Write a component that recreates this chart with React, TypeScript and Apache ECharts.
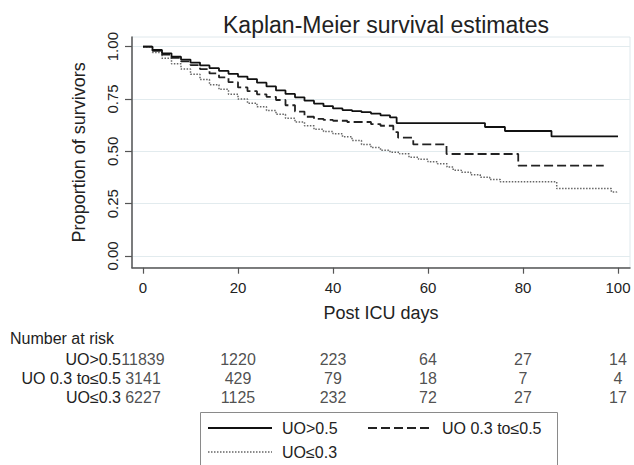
import React, { useEffect, useRef } from "react";
import * as echarts from "echarts";

const seriesNames = ["UO>0.5", "UO 0.3 to≤0.5", "UO≤0.3"];

const survHigh: [number, number][] = [
  [0, 1], [2, 0.984], [4, 0.968], [6, 0.952], [8, 0.938], [10, 0.924], [12, 0.91],
  [14, 0.897], [16, 0.884], [18, 0.87], [20, 0.857], [22, 0.845], [24, 0.828],
  [26, 0.81], [28, 0.791], [30, 0.774], [32, 0.758], [34, 0.742], [36, 0.728],
  [38, 0.716], [40, 0.705], [42, 0.697], [44, 0.692], [46, 0.687], [48, 0.68],
  [50, 0.672], [52, 0.662], [53.4, 0.635], [72, 0.616], [76.2, 0.597], [86, 0.571],
  [100, 0.571],
];

const survMid: [number, number][] = [
  [0, 1], [2, 0.98], [4, 0.962], [6, 0.946], [8, 0.93], [10, 0.912], [12, 0.893],
  [14, 0.872], [16, 0.853], [18, 0.83], [20, 0.805], [22, 0.787], [24, 0.772],
  [26, 0.76], [28, 0.745], [30, 0.72], [32, 0.69], [34, 0.665], [36, 0.655],
  [38, 0.65], [40, 0.646], [43, 0.64], [48, 0.63], [50, 0.622], [52.7, 0.592],
  [53.7, 0.565], [56.9, 0.533], [63.9, 0.487], [79, 0.432], [97, 0.432],
];

const survLow: [number, number][] = [
  [0, 1], [2, 0.972], [4, 0.945], [6, 0.918], [8, 0.893], [10, 0.868], [12, 0.843],
  [14, 0.818], [16, 0.796], [18, 0.773], [20, 0.75], [22, 0.73], [24, 0.713],
  [26, 0.695], [28, 0.677], [30, 0.658], [32, 0.64], [34, 0.622], [36, 0.605],
  [38, 0.595], [40, 0.584], [42, 0.57], [44, 0.552], [46, 0.533], [48, 0.518],
  [50, 0.505], [52, 0.496], [54, 0.488], [56, 0.472], [58, 0.462], [60, 0.45],
  [62, 0.441], [64, 0.425], [65.3, 0.41], [67, 0.4], [69, 0.388], [71, 0.376],
  [73, 0.365], [75.2, 0.354], [87.1, 0.322], [98.6, 0.306], [99.7, 0.3],
];

const xTicks = [0, 20, 40, 60, 80, 100];
const yTicks = [0, 0.25, 0.5, 0.75, 1];

const riskDays = [0, 20, 40, 60, 80, 100];
const riskHigh = [11839, 1220, 223, 64, 27, 14];
const riskMid = [3141, 429, 79, 18, 7, 4];
const riskLow = [6227, 1125, 232, 72, 27, 17];

export default function App() {
  const ref = useRef<HTMLDivElement>(null);
  useEffect(() => {
    const chart = echarts.init(ref.current!, null, { renderer: "svg" });
    const font = "'Liberation Sans', Arial, sans-serif";
    const txt = "#222";
    const xMin = -2.316;
    const xMax = 102.53;
    const riskRows = [riskHigh, riskMid, riskLow];
    const riskData: any[] = [];
    riskRows.forEach((row, r) =>
      row.forEach((v, i) => riskData.push([riskDays[i], seriesNames[r], v]))
    );
    const lineStyles = [
      { color: "#111", width: 1.8, type: "solid" },
      { color: "#222", width: 1.8, type: [9, 4] },
      { color: "#666", width: 1.5, type: [1.5, 1.5] },
    ];
    const survData = [survHigh, survMid, survLow];

    chart.setOption({
      animation: false,
      backgroundColor: "#fff",
      textStyle: { fontFamily: font },
      title: {
        text: "Kaplan-Meier survival estimates",
        left: 381,
        top: 8,
        textAlign: "center",
        textStyle: { fontSize: 23, fontWeight: "normal", color: txt, fontFamily: font },
      },
      grid: [
        {
          left: 132, top: 37, width: 498, height: 230.7,
          show: true, borderColor: "#dfe8ec", borderWidth: 1, backgroundColor: "#fff",
        },
        { left: 132, top: 349.5, width: 498, height: 57 },
      ],
      xAxis: [
        {
          type: "value", gridIndex: 0, min: xMin, max: xMax,
          name: "Post ICU days", nameLocation: "middle", nameGap: 36,
          nameTextStyle: { fontSize: 18, color: txt, fontFamily: font },
          axisLine: { show: true, onZero: false, lineStyle: { color: "#555", width: 1.5 } },
          axisTick: { show: true, length: 6, customValues: xTicks, lineStyle: { color: "#555", width: 1.2 } },
          axisLabel: { customValues: xTicks, fontSize: 15, color: txt, margin: 12, fontFamily: font },
          splitLine: { show: false },
        },
        { type: "value", gridIndex: 1, min: xMin, max: xMax, show: false },
      ],
      yAxis: [
        {
          type: "value", gridIndex: 0, min: -0.056, max: 1.046,
          name: "Proportion of survivors", nameLocation: "middle", nameGap: 44,
          nameTextStyle: { fontSize: 18, color: txt, fontFamily: font },
          axisLine: { show: true, onZero: false, lineStyle: { color: "#555", width: 1.5 } },
          axisTick: { show: true, length: 7, customValues: yTicks, lineStyle: { color: "#555", width: 1.2 } },
          axisLabel: {
            customValues: yTicks, rotate: 90, fontSize: 15, color: txt, margin: 12, fontFamily: font,
            formatter: (v: number) => v.toFixed(2),
          },
          splitLine: { show: true, lineStyle: { color: "#e2ebee", width: 1 } },
        },
        {
          type: "category", gridIndex: 1, data: seriesNames, inverse: true,
          axisLine: { show: false }, axisTick: { show: false },
          axisLabel: {
            interval: 0, hideOverlap: false, fontSize: 16, color: txt, margin: 11, fontFamily: font,
          },
          splitLine: { show: false },
        },
      ],
      series: [
        ...survData.map((d, i) => ({
          name: seriesNames[i],
          type: "line",
          step: "end",
          data: d,
          showSymbol: false,
          symbol: "none",
          lineStyle: lineStyles[i],
          z: 3 - i,
        })),
        {
          type: "scatter",
          xAxisIndex: 1,
          yAxisIndex: 1,
          data: riskData,
          symbolSize: 0,
          silent: true,
          label: {
            show: true, position: "inside", fontSize: 16, color: txt, fontFamily: font,
            formatter: (p: any) => String(p.value[2]),
          },
        },
      ],
      graphic: [
        {
          type: "text", left: 10, top: 330,
          style: { text: "Number at risk", fontSize: 16, fill: txt, fontFamily: font },
        },
        {
          type: "rect", shape: { x: 200.5, y: 412.5, width: 357, height: 70 },
          style: { fill: "#fff", stroke: "#8a8a8a", lineWidth: 1 },
        },
        {
          type: "line", shape: { x1: 208, y1: 428, x2: 272, y2: 428 },
          style: { stroke: "#111", lineWidth: 1.8 },
        },
        {
          type: "text", x: 282, y: 428,
          style: { text: seriesNames[0], fontSize: 16, fill: txt, fontFamily: font, verticalAlign: "middle" },
        },
        {
          type: "line", shape: { x1: 368, y1: 428, x2: 432, y2: 428 },
          style: { stroke: "#222", lineWidth: 1.8, lineDash: [9, 4] },
        },
        {
          type: "text", x: 442, y: 428,
          style: { text: seriesNames[1], fontSize: 16, fill: txt, fontFamily: font, verticalAlign: "middle" },
        },
        {
          type: "line", shape: { x1: 208, y1: 452, x2: 272, y2: 452 },
          style: { stroke: "#666", lineWidth: 1.3, lineDash: [1.5, 1.5] },
        },
        {
          type: "text", x: 282, y: 452,
          style: { text: seriesNames[2], fontSize: 16, fill: txt, fontFamily: font, verticalAlign: "middle" },
        },
      ],
    });
    return () => chart.dispose();
  }, []);
  return (
    <div
      ref={ref}
      style={{ position: "fixed", left: 0, top: 0, width: 634, height: 465 }}
    />
  );
}
